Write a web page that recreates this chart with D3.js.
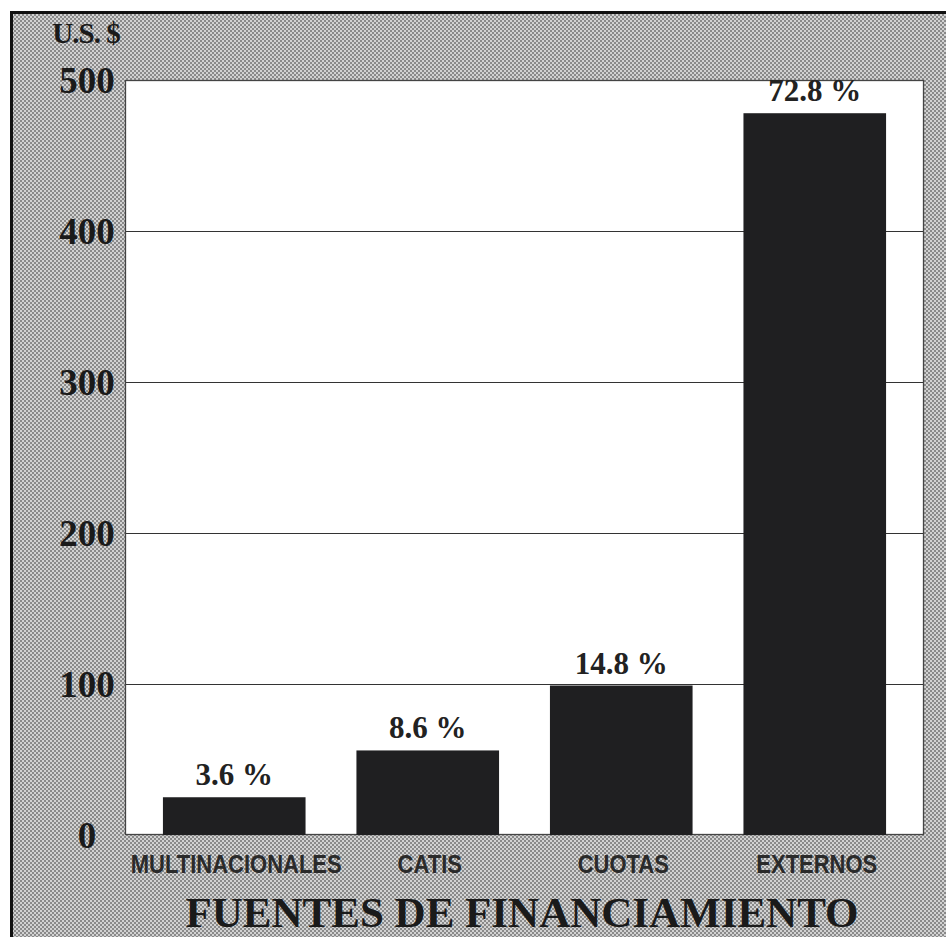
<!DOCTYPE html>
<html>
<head>
<meta charset="utf-8">
<script src="https://cdn.jsdelivr.net/npm/d3@7"></script>
<style>
  body { margin: 0; background: #fff; }
</style>
</head>
<body>
<svg id="chart"></svg>
<script>
var categories = ["MULTINACIONALES", "CATIS", "CUOTAS", "EXTERNOS"]
var values = [25, 56, 99, 478]
var percentLabels = ["3.6 %", "8.6 %", "14.8 %", "72.8 %"]
var yTicks = [0, 100, 200, 300, 400, 500]
var yUnit = "U.S. $"
var title = "FUENTES DE FINANCIAMIENTO"

var dimensions = {
	width: 946,
	height: 937,
	plot: { left: 125, right: 924, top: 80, bottom: 835 }
}

var svg = d3.select("#chart")
	.attr("width", dimensions.width)
	.attr("height", dimensions.height)

// halftone grey
var defs = svg.append("defs")
var pat = defs.append("pattern")
	.attr("id", "halftone")
	.attr("width", 4)
	.attr("height", 4)
	.attr("patternUnits", "userSpaceOnUse")
pat.append("rect").attr("width", 4).attr("height", 4).attr("fill", "#d2d2d2")
pat.append("rect").attr("x", 0).attr("y", 0).attr("width", 2).attr("height", 2).attr("fill", "#8a8a8a")
pat.append("rect").attr("x", 2).attr("y", 2).attr("width", 2).attr("height", 2).attr("fill", "#8a8a8a")

svg.append("rect")
	.attr("x", 12)
	.attr("y", 13)
	.attr("width", dimensions.width - 12)
	.attr("height", dimensions.height - 13)
	.attr("fill", "url(#halftone)")

// frame (only top and left visible)
svg.append("path")
	.attr("d", "M11.5," + dimensions.height + "V12.5H" + dimensions.width)
	.attr("fill", "none")
	.attr("stroke", "#111")
	.attr("stroke-width", 3)

var xScale = d3.scaleBand()
	.domain(categories)
	.range([dimensions.plot.left, dimensions.plot.right])
	.paddingInner(0.263)
	.paddingOuter(0.196)

var yScale = d3.scaleLinear()
	.domain([0, 500])
	.range([dimensions.plot.bottom, dimensions.plot.top])

svg.append("rect")
	.attr("x", dimensions.plot.left)
	.attr("y", dimensions.plot.top)
	.attr("width", dimensions.plot.right - dimensions.plot.left)
	.attr("height", dimensions.plot.bottom - dimensions.plot.top)
	.attr("fill", "#fff")

// gridlines
svg.append("g")
	.selectAll("line")
	.data(yTicks.filter(d => d > 0 && d < 500))
	.enter()
	.append("line")
	.attr("x1", dimensions.plot.left)
	.attr("x2", dimensions.plot.right)
	.attr("y1", d => yScale(d) + 0.5)
	.attr("y2", d => yScale(d) + 0.5)
	.attr("stroke", "#333")
	.attr("stroke-width", 1.2)

svg.append("rect")
	.attr("x", dimensions.plot.left + 0.5)
	.attr("y", dimensions.plot.top + 0.5)
	.attr("width", dimensions.plot.right - dimensions.plot.left - 1)
	.attr("height", dimensions.plot.bottom - dimensions.plot.top - 1)
	.attr("fill", "none")
	.attr("stroke", "#444")
	.attr("stroke-width", 1.3)

// bars
svg.append("g")
	.selectAll("rect")
	.data(values)
	.enter()
	.append("rect")
	.attr("x", (d, i) => xScale(categories[i]))
	.attr("y", d => yScale(d))
	.attr("width", xScale.bandwidth())
	.attr("height", d => yScale(0) - yScale(d))
	.attr("fill", "#1f1f21")

// percent labels
svg.append("g")
	.selectAll("text")
	.data(values)
	.enter()
	.append("text")
	.attr("x", (d, i) => xScale(categories[i]) + xScale.bandwidth() / 2)
	.attr("y", d => yScale(d) - 12)
	.attr("text-anchor", "middle")
	.style("font-family", "'Liberation Serif', 'Times New Roman', serif")
	.style("font-weight", "bold")
	.style("font-size", "31px")
	.style("fill", "#222")
	.text((d, i) => percentLabels[i])

// y tick labels
svg.append("g")
	.selectAll("text")
	.data(yTicks)
	.enter()
	.append("text")
	.attr("x", 87)
	.attr("y", d => yScale(d) + 13)
	.attr("text-anchor", "middle")
	.style("font-family", "'Liberation Serif', 'Times New Roman', serif")
	.style("font-weight", "bold")
	.style("font-size", "37px")
	.style("fill", "#1a1a1a")
	.text(d => d)

svg.append("text")
	.attr("x", 86)
	.attr("y", 43)
	.attr("text-anchor", "middle")
	.style("font-family", "'Liberation Serif', 'Times New Roman', serif")
	.style("font-weight", "bold")
	.style("font-size", "29px")
	.style("letter-spacing", "-1px")
	.style("fill", "#1a1a1a")
	.text(yUnit)

// category labels
svg.append("g")
	.selectAll("text")
	.data(categories)
	.enter()
	.append("text")
	.attr("transform", d => "translate(" + (xScale(d) + xScale.bandwidth() / 2 + 2) + ",873) scale(0.88,1)")
	.attr("text-anchor", "middle")
	.style("font-family", "'Liberation Sans', Arial, sans-serif")
	.style("font-weight", "bold")
	.style("font-size", "25px")
	.style("fill", "#2a2a2a")
	.text(d => d)

svg.append("text")
	.attr("x", 522)
	.attr("y", 927)
	.attr("text-anchor", "middle")
	.style("font-family", "'Liberation Serif', 'Times New Roman', serif")
	.style("font-weight", "bold")
	.style("font-size", "43px")
	.style("fill", "#1a1a1a")
	.text(title)
</script>
</body>
</html>
